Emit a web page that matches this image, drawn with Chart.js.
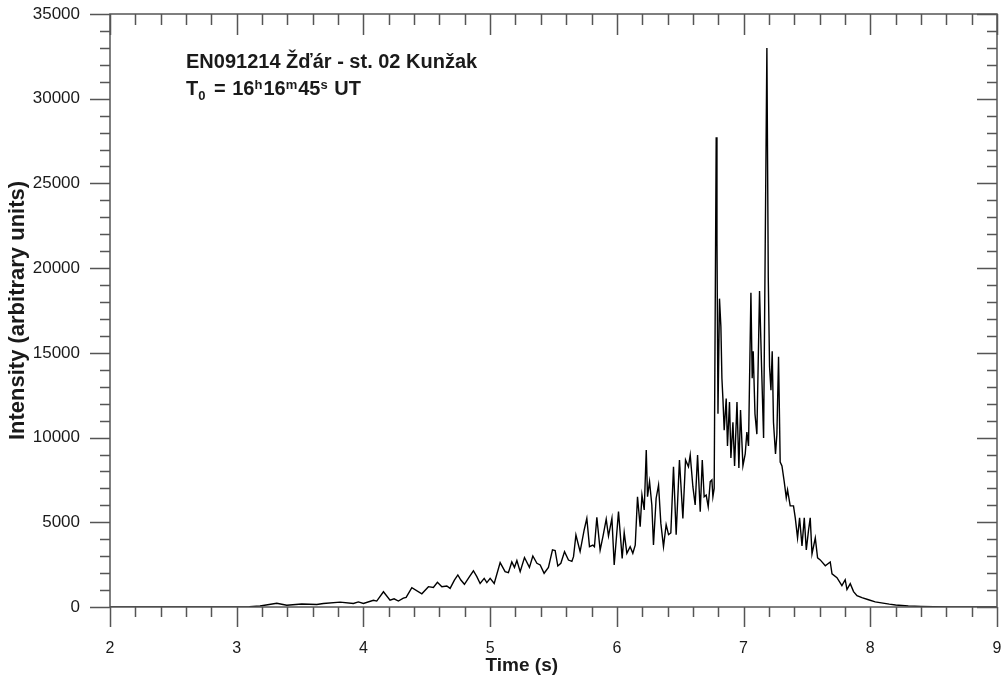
<!DOCTYPE html>
<html>
<head>
<meta charset="utf-8">
<script src="https://cdn.jsdelivr.net/npm/chart.js@4/dist/chart.umd.min.js"></script>
<style>
    body { margin: 0; background: #fff; }
    #wrap { width: 1003px; height: 681px; position: relative; }
</style>
</head>
<body>
<div id="wrap"><canvas id="light-curve"></canvas></div>
<script>
// Light curve of EN091214 (time in s, intensity in arbitrary units)
const time = [
    2.0, 3.0, 3.1, 3.184, 3.316, 3.395, 3.513, 3.632, 3.684, 3.816,
    3.921, 3.960, 4.000, 4.079, 4.105, 4.158, 4.210, 4.242, 4.276, 4.315,
    4.337, 4.382, 4.461, 4.513, 4.552, 4.584, 4.619, 4.658, 4.684, 4.718,
    4.745, 4.769, 4.797, 4.837, 4.868, 4.895, 4.921, 4.953, 4.974, 5.000,
    5.032, 5.079, 5.118, 5.144, 5.171, 5.192, 5.211, 5.237, 5.271, 5.310,
    5.337, 5.369, 5.395, 5.426, 5.460, 5.492, 5.513, 5.534, 5.558, 5.587,
    5.618, 5.645, 5.658, 5.677, 5.710, 5.742, 5.763, 5.784, 5.811, 5.823,
    5.842, 5.868, 5.890, 5.916, 5.934, 5.961, 5.979, 6.013, 6.042, 6.058,
    6.079, 6.105, 6.126, 6.145, 6.163, 6.184, 6.198, 6.216, 6.232, 6.242,
    6.258, 6.276, 6.289, 6.310, 6.329, 6.347, 6.368, 6.389, 6.408, 6.426,
    6.447, 6.468, 6.494, 6.521, 6.542, 6.565, 6.579, 6.600, 6.618, 6.637,
    6.658, 6.674, 6.689, 6.705, 6.721, 6.737, 6.750, 6.758, 6.768, 6.784,
    6.790, 6.798, 6.810, 6.821, 6.829, 6.837, 6.847, 6.863, 6.873, 6.889,
    6.900, 6.916, 6.929, 6.948, 6.963, 6.976, 6.995, 7.013, 7.026, 7.039,
    7.058, 7.068, 7.076, 7.090, 7.105, 7.126, 7.142, 7.158, 7.184, 7.195,
    7.205, 7.216, 7.226, 7.236, 7.252, 7.263, 7.276, 7.289, 7.303, 7.321,
    7.337, 7.347, 7.368, 7.394, 7.408, 7.426, 7.442, 7.461, 7.479, 7.495,
    7.513, 7.526, 7.540, 7.566, 7.584, 7.605, 7.645, 7.684, 7.698, 7.737,
    7.776, 7.802, 7.816, 7.842, 7.868, 7.895, 7.934, 7.986, 8.039, 8.10,
    8.15, 8.20, 8.30, 8.40, 8.50, 8.60, 8.80, 9.00
];

const intensity = [
    0, 0, 20, 60, 218, 100, 180, 150, 210, 290,
    210, 300, 210, 400, 350, 900, 400, 480, 350, 520,
    570, 1140, 780, 1200, 1150, 1460, 1200, 1240, 1100, 1590,
    1890, 1590, 1340, 1790, 2140, 1790, 1390, 1690, 1440, 1690,
    1390, 2620, 2090, 2030, 2660, 2340, 2740, 2090, 2920, 2340,
    3010, 2580, 2480, 1990, 2340, 3370, 3330, 2420, 2580, 3270,
    2770, 2690, 2970, 4250, 3270, 4545, 5230, 3560, 3650, 3560,
    5290, 3360, 4150, 5190, 4190, 5230, 2480, 5630, 2870, 4390,
    3170, 3560, 3170, 3650, 6510, 4740, 6610, 5730, 9270, 6510,
    7400, 6020, 3660, 6420, 7200, 4950, 3560, 4860, 4270, 4370,
    8280, 4270, 8680, 5230, 8680, 8280, 8970, 7100, 6020, 8970,
    5620, 8680, 6510, 6610, 5920, 7400, 7500, 6510, 7000, 27730,
    21700, 11400, 18200, 16550, 13500, 12300, 10440, 12300, 9500, 12100,
    8800, 10900, 8330, 12100, 8200, 11630, 8330, 9030, 10330, 9500,
    18550, 13500, 15100, 11400, 10200, 18650, 14200, 9970, 33000, 19400,
    14200, 12800, 15100, 10900, 9030, 10200, 14770, 8560, 8330, 7380,
    6440, 6910, 5970, 5970, 5260, 4080, 5260, 3610, 5260, 3370,
    4550, 5260, 3130, 4080, 2900, 2780, 2430, 2660, 1960, 1730,
    1260, 1610, 1030, 1380, 910, 670, 550, 430, 300, 230,
    170, 120, 60, 30, 12, 4, 0, 0
];

// Axis ranges and tick steps
const xRange = [2, 9];
const xMinorStep = 0.2;
const yRange = [0, 35000];
const yMinorStep = 1000;
const yLabelStep = 5000;

const axisColor = '#555';
const textColor = '#1a1a1a';
const fontFamily = "'Liberation Sans', Arial, sans-serif";

Chart.defaults.font.family = fontFamily;
Chart.defaults.color = textColor;

function isInteger(v) {
    return Math.abs(v - Math.round(v)) < 1e-6;
}

// Frame, inward/outward tick marks, x title (sits left of centre) and the event label
const framePlugin = {
    id: 'frame',
    afterDraw(chart) {
        const { ctx, chartArea: a, scales } = chart;
        ctx.save();
        ctx.strokeStyle = axisColor;
        ctx.lineWidth = 1.5;
        ctx.strokeRect(a.left, a.top, a.right - a.left, a.bottom - a.top);

        ctx.beginPath();
        scales.x.ticks.forEach(t => {
            const px = Math.round(scales.x.getPixelForValue(t.value)) + 0.5;
            const major = isInteger(t.value);
            // bottom: outward
            ctx.moveTo(px, a.bottom);
            ctx.lineTo(px, a.bottom + (major ? 20 : 10));
            // top: inward
            ctx.moveTo(px, a.top);
            ctx.lineTo(px, a.top + (major ? 21 : 11));
        });
        scales.y.ticks.forEach(t => {
            const py = Math.round(scales.y.getPixelForValue(t.value)) + 0.5;
            const major = t.value % yLabelStep === 0;
            // left: outward
            ctx.moveTo(a.left, py);
            ctx.lineTo(a.left - (major ? 20 : 10), py);
            // right: inward
            ctx.moveTo(a.right, py);
            ctx.lineTo(a.right - (major ? 20 : 10), py);
        });
        ctx.stroke();

        ctx.fillStyle = textColor;
        ctx.textBaseline = 'alphabetic';

        // x axis title
        ctx.textAlign = 'center';
        ctx.font = 'bold 19px ' + fontFamily;
        ctx.fillText('Time (s)', scales.x.getPixelForValue(5.25), 671);

        // Event label
        ctx.textAlign = 'left';
        ctx.font = 'bold 20px ' + fontFamily;
        ctx.fillText('EN091214 Žďár - st. 02 Kunžak', a.left + 76, 68);

        // [text, kind, gap after]; kind 1 = subscript, -1 = superscript
        const parts = [
            ['T', 0, 0], ['0', 1, 3], [' = ', 0, 1], ['16', 0, 0], ['h', -1, 1], ['16', 0, 0],
            ['m', -1, 1], ['45', 0, 0], ['s', -1, 1], [' UT', 0, 0]
        ];
        let x = a.left + 76;
        const base = 95;
        parts.forEach(([s, kind, gap]) => {
            ctx.font = kind === 0 ? 'bold 20px ' + fontFamily : 'bold 13px ' + fontFamily;
            const y = kind === 1 ? base + 5 : kind === -1 ? base - 6 : base;
            ctx.fillText(s, x, y);
            x += ctx.measureText(s).width + gap;
        });
        ctx.restore();
    }
};

function initializeChart() {
    const ctx = document.getElementById('light-curve').getContext('2d');

    new Chart(ctx, {
        type: 'line',
        data: {
            datasets: [{
                label: 'Intensity',
                data: time.map((t, i) => ({ x: t, y: intensity[i] })),
                borderColor: '#000',
                borderWidth: 1.4,
                pointRadius: 0,
                tension: 0,
                fill: false
            }]
        },
        options: {
            responsive: true,
            maintainAspectRatio: false,
            animation: false,
            layout: {
                padding: { top: 14, right: 6, left: 0, bottom: 0 }
            },
            plugins: {
                legend: { display: false },
                tooltip: { enabled: false }
            },
            scales: {
                x: {
                    type: 'linear',
                    min: xRange[0],
                    max: xRange[1],
                    // tick marks are drawn by the plugin, tickLength only places the labels
                    grid: { display: false, drawTicks: true, tickLength: 32 },
                    border: { display: false },
                    ticks: {
                        stepSize: xMinorStep,
                        autoSkip: false,
                        maxRotation: 0,
                        padding: 0,
                        font: { size: 16 },
                        color: textColor,
                        callback: v => isInteger(v) ? String(Math.round(v)) : ''
                    },
                    title: { display: false },
                    afterFit: scale => { scale.height = 74; }
                },
                y: {
                    min: yRange[0],
                    max: yRange[1],
                    grid: { display: false, drawTicks: true, tickLength: 30 },
                    border: { display: false },
                    ticks: {
                        stepSize: yMinorStep,
                        autoSkip: false,
                        padding: 0,
                        font: { size: 17 },
                        color: textColor,
                        callback: v => v % yLabelStep === 0 ? String(v) : ''
                    },
                    title: {
                        display: true,
                        text: 'Intensity (arbitrary units)',
                        font: { size: 22, weight: 'bold' },
                        color: textColor,
                        padding: { top: 5, bottom: 0 }
                    },
                    afterFit: scale => { scale.width = 110; }
                }
            }
        },
        plugins: [framePlugin]
    });
}

document.addEventListener('DOMContentLoaded', initializeChart);
</script>
</body>
</html>
